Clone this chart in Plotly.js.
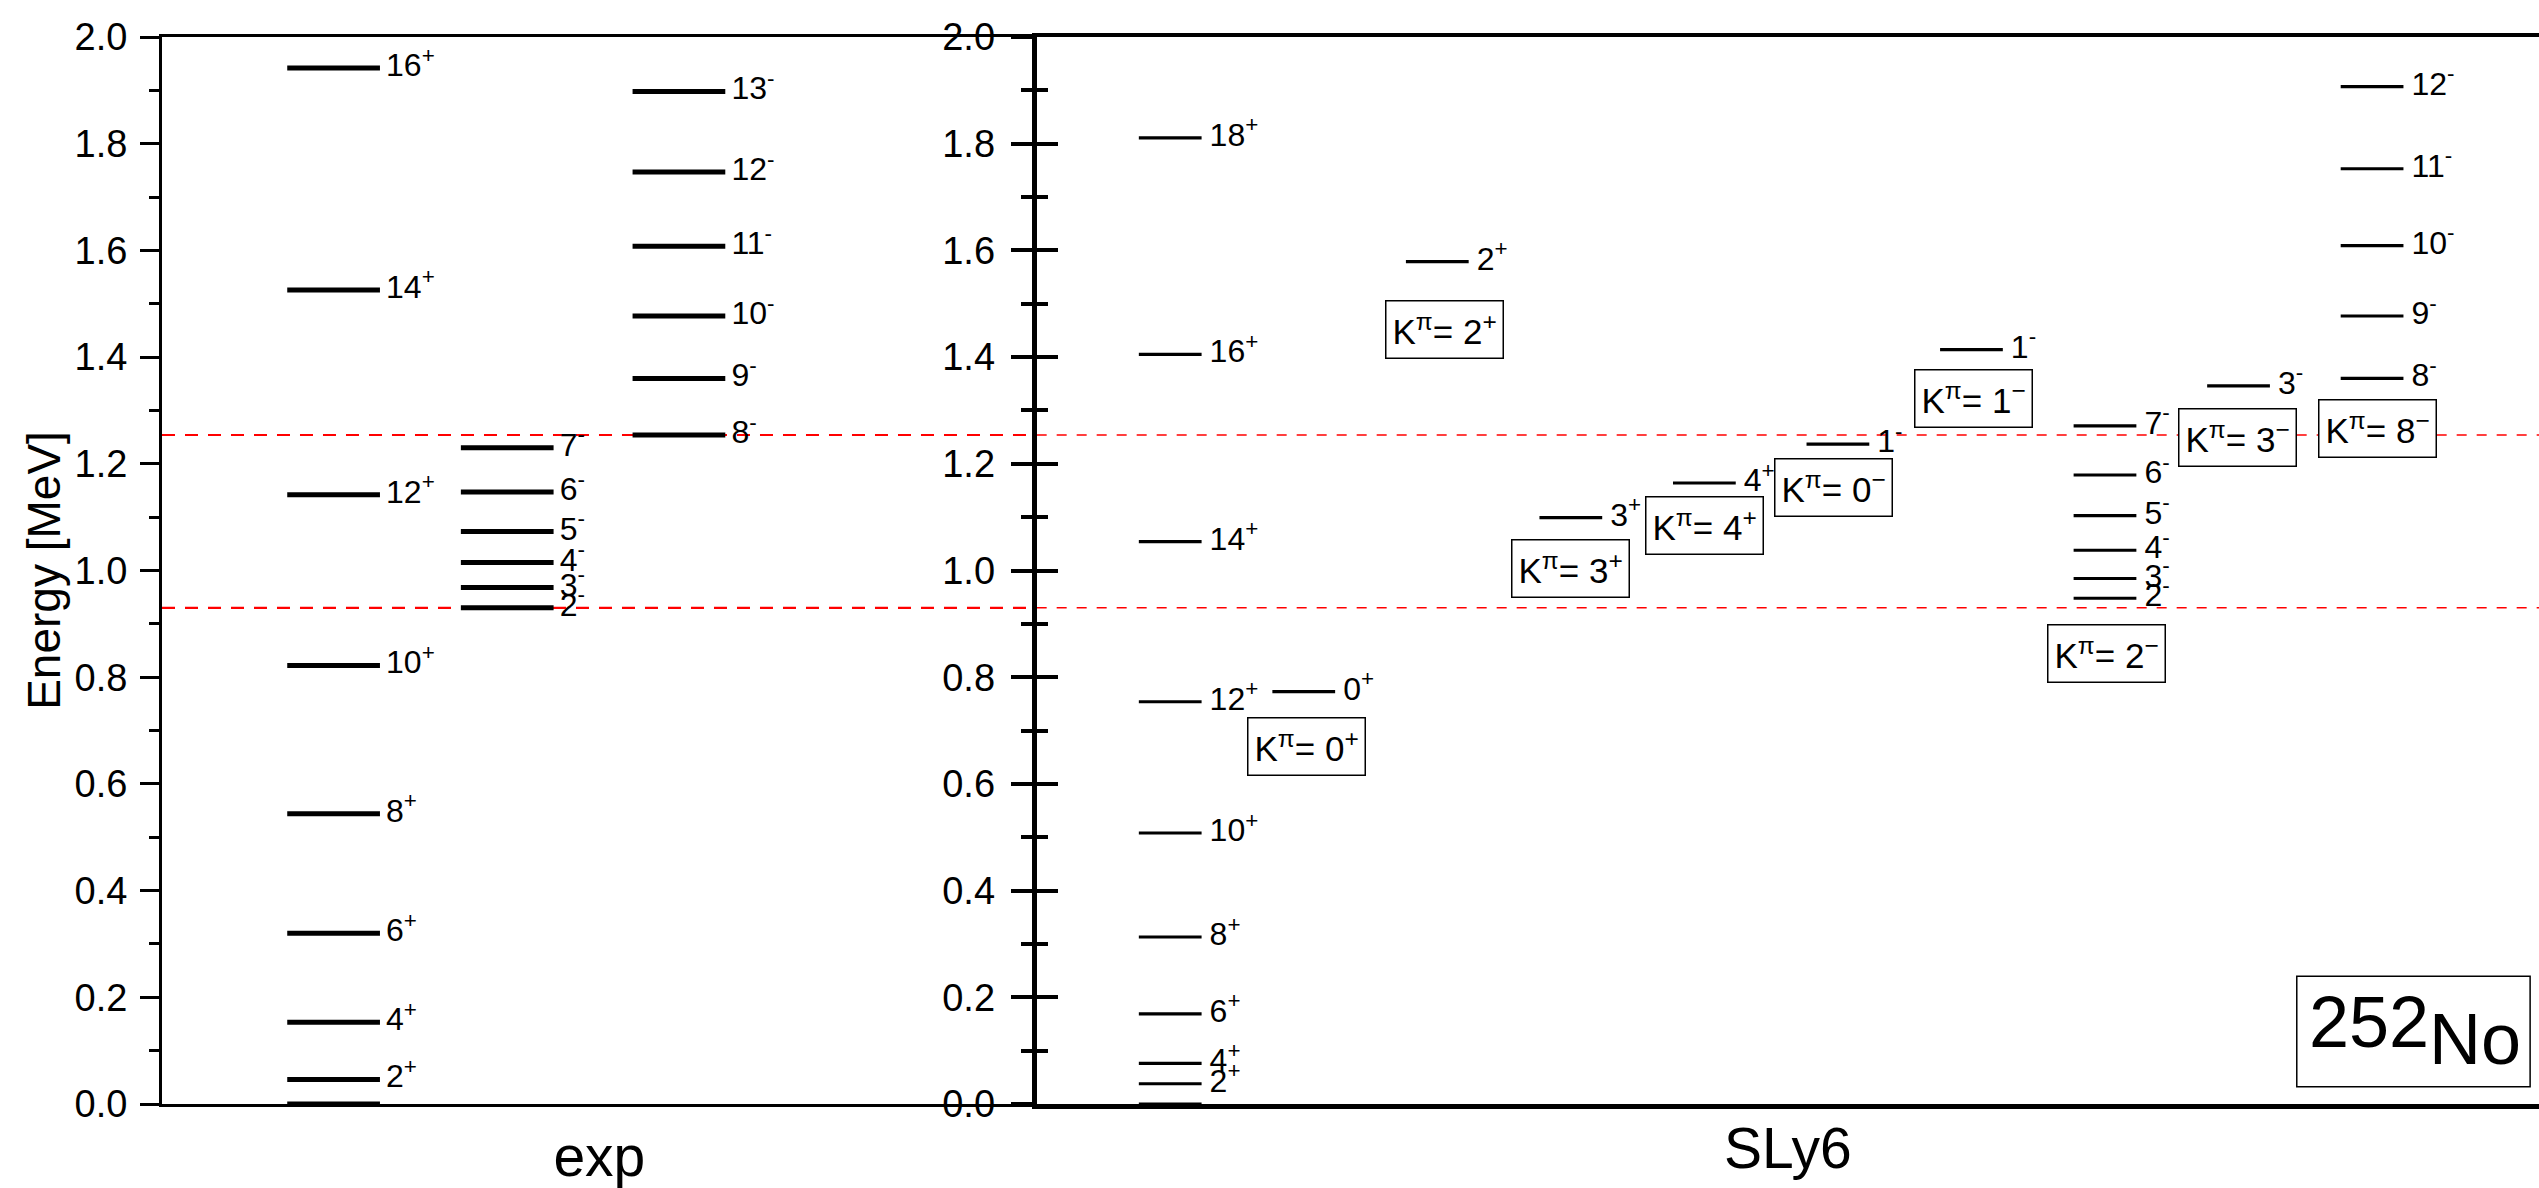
<!DOCTYPE html>
<html><head><meta charset="utf-8">
<script src="https://cdn.plot.ly/plotly-3.0.1.min.js"></script>
<style>html,body{margin:0;padding:0;background:#fff;} #chart{width:2539px;height:1188px;}</style>
</head><body><div id="chart"></div>
<script>
// ---------------- data (level energies in MeV) ----------------
// experiment
const expGsbSpin = [0, 2, 4, 6, 8, 10, 12, 14, 16];
const expGsbE    = [0.000, 0.046, 0.153, 0.320, 0.544, 0.822, 1.142, 1.526, 1.942];
const expK2Spin  = [2, 3, 4, 5, 6, 7];
const expK2E     = [0.930, 0.968, 1.015, 1.073, 1.147, 1.230];
const expK8Spin  = [8, 9, 10, 11, 12, 13];
const expK8E     = [1.254, 1.360, 1.477, 1.608, 1.747, 1.898];

// SLy6 calculation
const slyGsbSpin = [0, 2, 4, 6, 8, 10, 12, 14, 16, 18];
const slyGsbE    = [0.000, 0.038, 0.076, 0.169, 0.313, 0.508, 0.754, 1.054, 1.405, 1.811];
const slyK0pSpin = [0];   const slyK0pE = [0.773];
const slyK2pSpin = [2];   const slyK2pE = [1.579];
const slyK3pSpin = [3];   const slyK3pE = [1.099];
const slyK4pSpin = [4];   const slyK4pE = [1.164];
const slyK0mSpin = [1];   const slyK0mE = [1.237];
const slyK1mSpin = [1];   const slyK1mE = [1.414];
const slyK2mSpin = [2, 3, 4, 5, 6, 7];
const slyK2mE    = [0.948, 0.985, 1.038, 1.103, 1.179, 1.271];
const slyK3mSpin = [3];   const slyK3mE = [1.346];
const slyK8mSpin = [8, 9, 10, 11, 12];
const slyK8mE    = [1.360, 1.477, 1.609, 1.753, 1.907];

// K^pi labels of the calculated side bands
const kValues  = [0, 2, 3, 4, 0, 1, 2, 3, 8];
const kParity  = ['+', '+', '+', '+', '-', '-', '-', '-', '-'];

const panelNames = ['exp', 'SLy6'];
const nucleusMass = '252';
const nucleusName = 'No';

// ---------------- layout helpers (positions / styles) ----------------
const expCols = [1.962, 3.947, 5.91];
const expHalf = 0.53;
const expGap = 0.07;
const slyHalf = 0.235;
const slyGap = 0.06;
// box anchor positions (data coords of right panel)
const kBoxPos = [[2.017, 0.670], [3.051, 1.451], [3.995, 1.003], [4.998, 1.084],
                 [5.964, 1.155], [7.013, 1.323], [8.008, 0.845], [8.99, 1.249], [10.04, 1.266]];

function lbl(spin, par) { return spin + '<sup>' + par + '</sup>'; }

const FONT = 'Liberation Sans, Arial, sans-serif';
const traces = [];
function addBand(xc, half, gap, spins, energies, par, xa, ya, width, skipZero) {
  const xs = [], ys = [];
  energies.forEach(e => { xs.push(xc - half, xc + half, null); ys.push(e, e, null); });
  traces.push({type: 'scatter', mode: 'lines', x: xs, y: ys, xaxis: xa, yaxis: ya,
    line: {color: 'black', width: width}, hoverinfo: 'skip', showlegend: false});
  const tx = [], ty = [], tt = [];
  spins.forEach((s, i) => {
    if (skipZero && s === 0) return;
    tx.push(xc + half + gap); ty.push(energies[i]); tt.push(lbl(s, par));
  });
  traces.push({type: 'scatter', mode: 'text', x: tx, y: ty, text: tt, xaxis: xa, yaxis: ya,
    textposition: 'middle right', cliponaxis: false,
    textfont: {size: 32, color: 'black', family: FONT},
    hoverinfo: 'skip', showlegend: false});
}

// experiment panel
addBand(expCols[0], expHalf, expGap, expGsbSpin, expGsbE, '+', 'x', 'y', 5, true);
addBand(expCols[1], expHalf, expGap, expK2Spin, expK2E, '-', 'x', 'y', 5, false);
addBand(expCols[2], expHalf, expGap, expK8Spin, expK8E, '-', 'x', 'y', 5, false);

// SLy6 panel: columns 1..10
const slyBands = [
  [slyGsbSpin, slyGsbE, '+', true],
  [slyK0pSpin, slyK0pE, '+', false],
  [slyK2pSpin, slyK2pE, '+', false],
  [slyK3pSpin, slyK3pE, '+', false],
  [slyK4pSpin, slyK4pE, '+', false],
  [slyK0mSpin, slyK0mE, '-', false],
  [slyK1mSpin, slyK1mE, '-', false],
  [slyK2mSpin, slyK2mE, '-', false],
  [slyK3mSpin, slyK3mE, '-', false],
  [slyK8mSpin, slyK8mE, '-', false]
];
slyBands.forEach((b, i) => addBand(i + 1, slyHalf, slyGap, b[0], b[1], b[2], 'x2', 'y2', 3.2, b[3]));

// empty trace so the overlaid (inside-tick) axis exists
traces.push({type: 'scatter', mode: 'lines', x: [], y: [], xaxis: 'x2', yaxis: 'y3',
  hoverinfo: 'skip', showlegend: false});

const annotations = kValues.map((k, i) => ({
  xref: 'x2', yref: 'y2', x: kBoxPos[i][0], y: kBoxPos[i][1], xanchor: 'center', yanchor: 'middle',
  text: 'K<sup>π</sup>= ' + k + '<sup>' + (kParity[i] === '+' ? '+' : '\u2212') + '</sup>',
  showarrow: false, font: {size: 35, color: 'black', family: FONT},
  bordercolor: 'black', borderwidth: 1.5, borderpad: 6, bgcolor: 'white'
}));
annotations.push({xref: 'paper', yref: 'paper', x: 0.9331, y: 0.0764, xanchor: 'center', yanchor: 'middle',
  text: nucleusMass, showarrow: false, font: {size: 72, color: 'black', family: FONT}});
annotations.push({xref: 'paper', yref: 'paper', x: 0.9748, y: 0.0605, xanchor: 'center', yanchor: 'middle',
  text: nucleusName, showarrow: false, font: {size: 72, color: 'black', family: FONT}});

const shapes = [
  {type: 'line', xref: 'x', yref: 'y', x0: 0, x1: 10, y0: expK8E[0], y1: expK8E[0],
   line: {color: 'red', width: 2.2, dash: '13px,10px'}, layer: 'below'},
  {type: 'line', xref: 'x', yref: 'y', x0: 0, x1: 10, y0: expK2E[0], y1: expK2E[0],
   line: {color: 'red', width: 2.2, dash: '13px,10px'}, layer: 'below'},
  {type: 'line', xref: 'x2', yref: 'y2', x0: 0, x1: 11.25, y0: expK8E[0], y1: expK8E[0],
   line: {color: 'red', width: 1.5, dash: '10px,10px'}, layer: 'below'},
  {type: 'line', xref: 'x2', yref: 'y2', x0: 0, x1: 11.25, y0: expK2E[0], y1: expK2E[0],
   line: {color: 'red', width: 1.5, dash: '10px,10px'}, layer: 'below'},
  {type: 'rect', xref: 'paper', yref: 'paper', x0: 0.9046, x1: 0.9965, y0: 0.0161, y1: 0.1198,
   line: {color: 'black', width: 1.5}, fillcolor: 'rgba(0,0,0,0)', layer: 'above'}
];

const yCommon = {range: [0, 2], tick0: 0, dtick: 0.2, tickformat: '.1f', showgrid: false,
  zeroline: false, fixedrange: true};

const layout = {
  width: 2539, height: 1188,
  margin: {l: 0, r: 0, t: 37, b: 84},
  paper_bgcolor: 'white', plot_bgcolor: 'rgba(0,0,0,0)',
  font: {family: FONT, color: 'black'},
  showlegend: false,
  xaxis: {domain: [0.0638, 0.4083], range: [0, 10], anchor: 'y', showline: true, mirror: true,
    linewidth: 3, linecolor: 'black', ticks: '', tickvals: [], showticklabels: false, showgrid: false,
    zeroline: false, fixedrange: true,
    title: {text: panelNames[0], font: {size: 57, family: FONT}, standoff: 45}},
  yaxis: Object.assign({}, yCommon, {anchor: 'x', domain: [0, 1], showline: true, linewidth: 3,
    linecolor: 'black', ticks: 'outside', ticklen: 19, tickwidth: 3, tickcolor: 'black',
    tickfont: {size: 38, family: FONT}, ticklabelstandoff: 5,
    minor: {ticks: 'outside', ticklen: 10, tickwidth: 3, tickcolor: 'black', dtick: 0.1, tick0: 0, showgrid: false},
    title: {text: 'Energy [MeV]', font: {size: 46, family: FONT}, standoff: 0}}),
  xaxis2: {domain: [0.4083, 1], range: [0, 11.25], anchor: 'y2', showline: true, mirror: true,
    linewidth: 4.5, linecolor: 'black', ticks: '', tickvals: [], showticklabels: false, showgrid: false,
    zeroline: false, fixedrange: true,
    title: {text: panelNames[1], font: {size: 57, family: FONT}, standoff: 22}},
  yaxis2: Object.assign({}, yCommon, {anchor: 'x2', domain: [0, 1], showline: true, linewidth: 5,
    linecolor: 'black', ticks: 'outside', ticklen: 21, tickwidth: 4, tickcolor: 'black',
    tickfont: {size: 38, family: FONT}, ticklabelstandoff: 8,
    minor: {ticks: 'outside', ticklen: 11, tickwidth: 4, tickcolor: 'black', dtick: 0.1, tick0: 0, showgrid: false}}),
  yaxis3: Object.assign({}, yCommon, {anchor: 'x2', overlaying: 'y2', showline: false,
    ticks: 'inside', ticklen: 21, tickwidth: 4, tickcolor: 'black', showticklabels: false,
    minor: {ticks: 'inside', ticklen: 11, tickwidth: 4, tickcolor: 'black', dtick: 0.1, tick0: 0, showgrid: false}}),
  annotations: annotations,
  shapes: shapes
};

Plotly.newPlot('chart', traces, layout, {displayModeBar: false, staticPlot: true});
</script></body></html>
